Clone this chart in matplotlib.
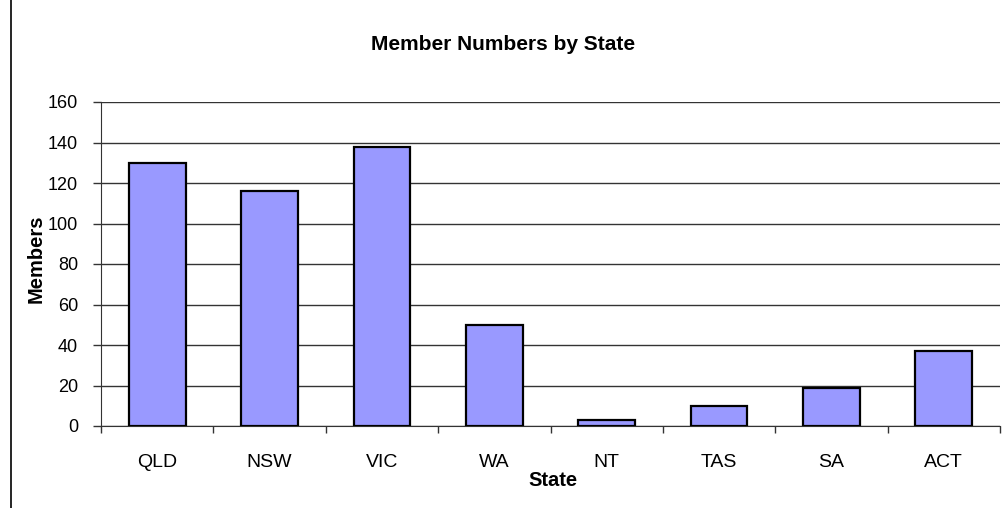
import matplotlib
matplotlib.use("Agg")
import matplotlib.pyplot as plt
from matplotlib.lines import Line2D

states = ["QLD", "NSW", "VIC", "WA", "NT", "TAS", "SA", "ACT"]
members = [130, 116, 138, 50, 3, 10, 19, 37]
yticks = [0, 20, 40, 60, 80, 100, 120, 140, 160]

plt.rcParams['font.family'] = ['Liberation Sans', 'DejaVu Sans']

fig = plt.figure(figsize=(10.02, 5.08), dpi=100)
W, H = 1002, 508
left, right, top, bottom = 101, 1000, 102, 426
ax = fig.add_axes([left / W, 1 - bottom / H, (right - left) / W, (bottom - top) / H])

x = list(range(len(states)))
ax.bar(x, members, width=0.505, color="#9999FF", edgecolor="black", linewidth=1.6, zorder=3)
ax.set_xlim(-0.5, len(states) - 0.5)
ax.set_ylim(0, 160)
ax.set_yticks(yticks)
ax.set_yticklabels([str(v) for v in yticks], fontsize=13)
ax.yaxis.grid(True, color="#333333", linewidth=1.0, zorder=0)
ax.set_xticks(x)
ax.set_xticklabels(states, fontsize=14)
ax.tick_params(axis="x", length=0, pad=20)
ax.set_xticks([i + 0.5 for i in range(-1, len(states))], minor=True)
ax.tick_params(axis="x", which="minor", length=5, width=1, color="#333333", direction="out")
ax.tick_params(axis="y", length=5.5, width=1, color="#333333", direction="out", pad=11)
for s in ["top", "right"]:
    ax.spines[s].set_visible(False)
ax.spines["left"].set_color("#333333")
ax.spines["bottom"].set_color("#333333")

fig.text(503 / W, 1 - 45 / H, "Member Numbers by State", ha="center", va="center",
         fontsize=15, fontweight="bold")
fig.text(553 / W, 1 - 481 / H, "State", ha="center", va="center", fontsize=14.5, fontweight="bold")
fig.text(36 / W, 1 - 259 / H, "Members", ha="center", va="center", rotation=90,
         fontsize=14.5, fontweight="bold")

fig.add_artist(Line2D([11 / W, 11 / W], [0, 1], transform=fig.transFigure, color="black", linewidth=1.2))

fig.savefig("out.png", dpi=100)
